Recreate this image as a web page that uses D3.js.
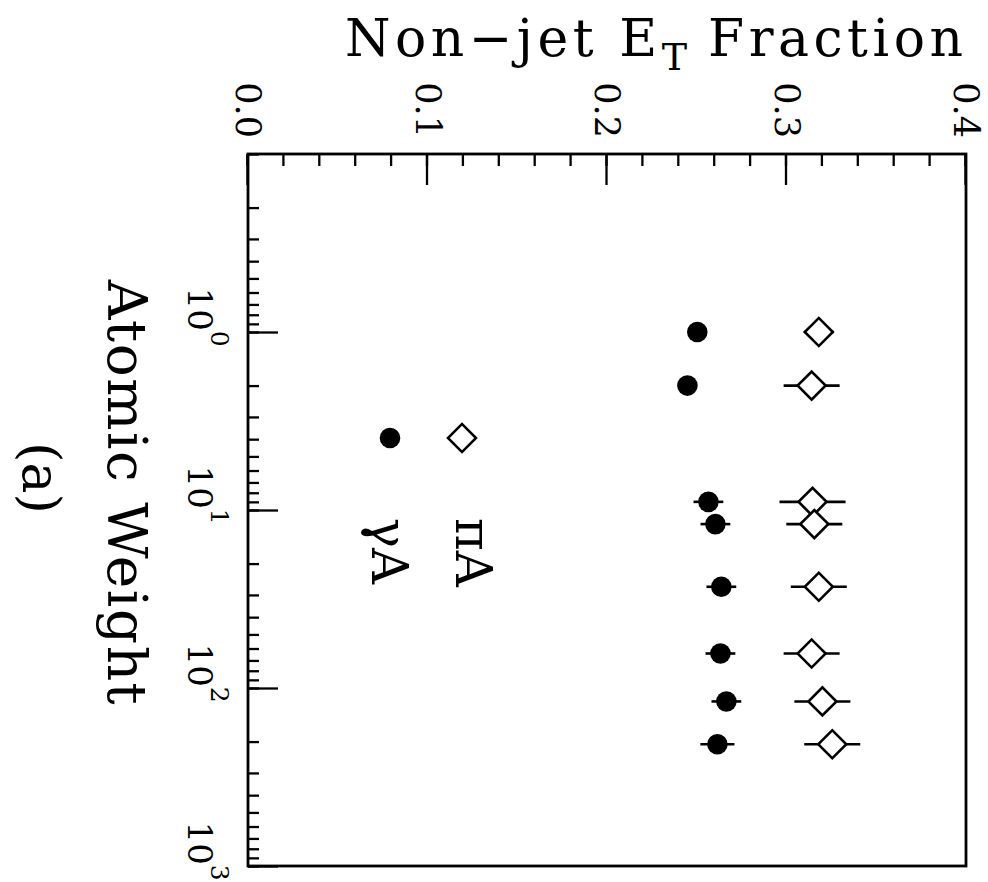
<!DOCTYPE html>
<html>
<head>
<meta charset="utf-8">
<script src="https://cdn.jsdelivr.net/npm/d3@7"></script>
<style>
body { margin: 0; background: #fff; }
text { font-family: "DejaVu Serif", serif; fill: #000; }
</style>
</head>
<body>
<script>
"use strict";

// Data

let atomicWeight = [1, 2, 9, 12, 27, 64, 119, 207];
let piA = [0.318, 0.314, 0.3145, 0.3155, 0.318, 0.314, 0.320, 0.3255];
let piAErr = [0.0083, 0.0156, 0.0184, 0.0156, 0.0156, 0.0156, 0.0156, 0.0156];
let gammaA = [0.2503, 0.2448, 0.2565, 0.2604, 0.2637, 0.2632, 0.2665, 0.2615];
let gammaAErr = [0.004, 0.004, 0.0083, 0.0083, 0.0083, 0.0083, 0.0083, 0.0095];

let weightDomain = [0.1, 1000];
let weightMajor = [1, 10, 100, 1000];
let fracDomain = [0, 0.4];
let fracMajor = [0, 0.1, 0.2, 0.3, 0.4];

// Layout (the whole plot is turned a quarter turn clockwise)

let svgWidth = 988;
let svgHeight = 882;
let frame = {left: 248, right: 966, top: 154, bottom: 866};
let width = frame.bottom - frame.top;   // along atomic weight
let height = frame.right - frame.left;  // along fraction

let svg = d3.select("body")
    .append("svg")
    .attr("width", svgWidth)
    .attr("height", svgHeight);

let g = svg.append("g")
    .attr("transform", `translate(${frame.right}, ${frame.top}) rotate(90)`);

let xScale = d3.scaleLog()
    .domain(weightDomain)
    .range([0, width]);

let yScale = d3.scaleLinear()
    .domain(fracDomain)
    .range([height, 0]);

// Axes

let xMinor = d3.axisBottom(xScale)
    .tickValues(xScale.ticks())
    .tickSize(-11)
    .tickSizeOuter(0)
    .tickFormat("");

let xMajor = d3.axisBottom(xScale)
    .tickValues(weightMajor)
    .tickSize(-30)
    .tickSizeOuter(0)
    .tickPadding(36);

let yMinor = d3.axisLeft(yScale)
    .tickValues(yScale.ticks(20))
    .tickSize(-12)
    .tickSizeOuter(0)
    .tickFormat("");

let yMajor = d3.axisLeft(yScale)
    .tickValues(fracMajor)
    .tickSize(-31)
    .tickSizeOuter(0)
    .tickPadding(16)
    .tickFormat(d3.format(".1f"));

g.append("g").attr("transform", `translate(0, ${height})`).call(xMinor);
let xg = g.append("g").attr("transform", `translate(0, ${height})`).call(xMajor);
g.append("g").call(yMinor);
let yg = g.append("g").call(yMajor);

g.selectAll(".domain").remove();
g.selectAll(".tick line")
    .style("stroke", "#000")
    .style("stroke-width", 2.3);

xg.selectAll(".tick text")
    .style("font-family", "DejaVu Serif")
    .style("font-size", "34px")
    .attr("text-anchor", "start")
    .attr("dx", -45)
    .each(function (d) {
        let t = d3.select(this).text("10");
        t.append("tspan")
            .attr("dy", -23)
            .style("font-size", "25px")
            .text(Math.round(Math.log10(d)));
    });

yg.selectAll(".tick text")
    .style("font-family", "DejaVu Serif")
    .style("font-size", "35px");

g.append("rect")
    .attr("width", width)
    .attr("height", height)
    .attr("fill", "none")
    .attr("stroke", "#000")
    .attr("stroke-width", 2.8);

// Titles

svg.append("text")
    .attr("x", frame.left + 97)
    .attr("y", 56)
    .style("font-size", "52px")
    .style("letter-spacing", "4.5px")
    .call(t => {
        t.append("tspan").text("Non\u2212jet E");
        t.append("tspan").attr("dy", 14).style("font-size", "38px").style("letter-spacing", "0px").text("T");
        t.append("tspan").attr("dy", -14).text(" Fraction");
    });

g.append("text")
    .attr("x", 339)
    .attr("y", height + 140)
    .attr("text-anchor", "middle")
    .style("font-size", "55px")
    .style("letter-spacing", "1.5px")
    .text("Atomic Weight");

g.append("text")
    .attr("x", 324)
    .attr("y", height + 225)
    .attr("text-anchor", "middle")
    .style("font-size", "52px")
    .text("(a)");

// Points

let diamond = d3.symbol().type(d3.symbolSquare).size(392);

function plotSeries(values, errors, kind) {
    let s = g.append("g");
    s.selectAll("line")
        .data(values)
        .join("line")
        .attr("x1", (d, i) => xScale(atomicWeight[i]))
        .attr("x2", (d, i) => xScale(atomicWeight[i]))
        .attr("y1", (d, i) => yScale(d - errors[i]))
        .attr("y2", (d, i) => yScale(d + errors[i]))
        .attr("stroke", "#000")
        .attr("stroke-width", 2.6);

    if (kind == "circle") {
        s.selectAll("circle")
            .data(values)
            .join("circle")
            .attr("cx", (d, i) => xScale(atomicWeight[i]))
            .attr("cy", d => yScale(d))
            .attr("r", 10.3)
            .attr("fill", "#000");
    } else {
        s.selectAll("path")
            .data(values)
            .join("path")
            .attr("d", diamond)
            .attr("transform", (d, i) => `translate(${xScale(atomicWeight[i])}, ${yScale(d)}) rotate(45)`)
            .attr("fill", "#fff")
            .attr("stroke", "#000")
            .attr("stroke-width", 2.6);
    }
}

plotSeries(gammaA, gammaAErr, "circle");
plotSeries(piA, piAErr, "diamond");

// Legend

let legend = g.append("g");

legend.append("path")
    .attr("d", diamond)
    .attr("transform", "translate(284, 504) rotate(45)")
    .attr("fill", "#fff")
    .attr("stroke", "#000")
    .attr("stroke-width", 2.6);

legend.append("circle")
    .attr("cx", 284)
    .attr("cy", 576)
    .attr("r", 10.3)
    .attr("fill", "#000");

legend.append("text")
    .attr("x", 364)
    .attr("y", 510)
    .style("font-size", "50px")
    .text("\u03c0A");

legend.append("text")
    .attr("x", 364)
    .attr("y", 594)
    .style("font-size", "50px")
    .text("\u03b3A");
</script>
</body>
</html>
